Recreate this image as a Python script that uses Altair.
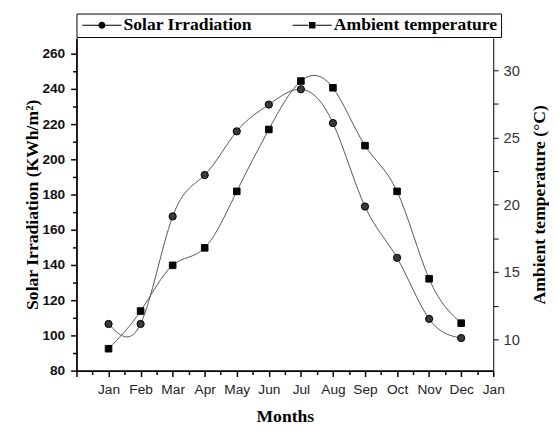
import altair as alt
import pandas as pd

months = ["Jan", "Feb", "Mar", "Apr", "May", "Jun", "Jul", "Aug", "Sep", "Oct", "Nov", "Dec"]
month_num = [1, 2, 3, 4, 5, 6, 7, 8, 9, 10, 11, 12]
solar = [106.5, 106.5, 167.6, 191.1, 215.9, 231.1, 239.8, 220.6, 173.2, 144.1, 109.4, 98.5]
temperature = [9.3, 12.1, 15.5, 16.8, 21.0, 25.6, 29.2, 28.7, 24.4, 21.0, 14.5, 11.2]
tick_labels = months + ["Jan"]
series_names = ["Solar Irradiation", "Ambient temperature"]

df = pd.DataFrame({"m": month_num, "solar": solar, "temp": temperature, "month": months})

label_js = "[" + ",".join("'" + t + "'" for t in tick_labels) + "]"
x_label_expr = "datum.value >= 1 && datum.value % 1 == 0 ? " + label_js + "[datum.value - 1] : ''"

SANS = "Liberation Sans"
SERIF = "Liberation Serif"

x_enc = alt.X(
    "m:Q",
    scale=alt.Scale(domain=[0, 13], nice=False, zero=False),
    axis=alt.Axis(
        values=[i / 2 for i in range(0, 27)],
        labelExpr=x_label_expr,
        labelOverlap=False, labelFlush=False,
        labelFont=SANS, labelFontSize=14, labelColor="#222",
        labelPadding=6,
        tickSize={"condition": {"test": "datum.value % 1 == 0", "value": 6}, "value": 4},
        tickColor="black", tickWidth=1.5,
        domainColor="black", domainWidth=1.8,
        grid=False,
        title="Months", titleFont=SERIF, titleFontSize=18, titleFontWeight="bold",
        titleColor="black", titlePadding=12,
    ),
)

y_left = alt.Y(
    "solar:Q",
    scale=alt.Scale(domain=[80, 268.9], nice=False, zero=False),
    axis=alt.Axis(
        orient="left",
        values=list(range(80, 261, 10)),
        labelExpr="datum.value % 20 == 0 ? datum.label : ''",
        labelOverlap=False, labelFlush=False,
        labelFont=SANS, labelFontSize=14, labelFontWeight="bold", labelColor="#111",
        labelPadding=6,
        tickSize={"condition": {"test": "datum.value % 20 == 0", "value": 6}, "value": 4},
        tickColor="black", tickWidth=1.5,
        domainColor="black", domainWidth=1.8,
        grid=False,
        title="Solar Irradiation (KWh/m²)", titleFont=SERIF, titleFontSize=18,
        titleFontWeight="bold", titleColor="black", titlePadding=0,
    ),
)

y_right = alt.Y(
    "temp:Q",
    scale=alt.Scale(domain=[7.67, 32.4], nice=False, zero=False),
    axis=alt.Axis(
        orient="right",
        values=[10, 12.5, 15, 17.5, 20, 22.5, 25, 27.5, 30],
        labelExpr="datum.value % 5 == 0 ? datum.label : ''",
        labelOverlap=False, labelFlush=False,
        labelFont=SANS, labelFontSize=15, labelColor="#333",
        labelPadding=5,
        tickSize=5, tickColor="black", tickWidth=1,
        domainColor="black", domainWidth=1,
        grid=False,
        title="Ambient temperature (°C)", titleFont=SERIF, titleFontSize=18,
        titleFontWeight="bold", titleColor="black", titlePadding=12,
        titleAngle=270, titleBaseline="top",
    ),
)

circle_path = ("M-3.33,-0.09H-0.61V0.09H-3.33Z M0.61,-0.09H3.33V0.09H0.61Z "
               "M-0.6,0A0.6,0.6,0,1,1,0.6,0A0.6,0.6,0,1,1,-0.6,0Z")
square_path = ("M-3.33,-0.09H-0.61V0.09H-3.33Z M0.61,-0.09H3.33V0.09H0.61Z "
               "M-0.55,-0.55H0.55V0.55H-0.55Z")

base = alt.Chart(df)

sol_line = base.mark_line(interpolate="natural", color="#555", strokeWidth=1).encode(x=x_enc, y=y_left)
sol_pts = base.mark_point(shape="circle", filled=True, size=55, fill="#3a3a3a",
                          stroke="black", strokeWidth=1, opacity=1).encode(x=x_enc, y=y_left)
legend_layer = base.transform_calculate(series="'Solar Irradiation'").transform_filter("false").mark_point(
    filled=True, color="black", opacity=1
).encode(
    x=x_enc, y=y_left,
    shape=alt.Shape(
        "series:N",
        scale=alt.Scale(domain=series_names, range=[circle_path, square_path]),
        legend=alt.Legend(
            title=None, orient="none", legendX=0, legendY=-25, direction="horizontal",
            strokeColor="black", fillColor="white", padding=3,
            columnPadding=38, labelOffset=13, symbolOffset=14,
            symbolSize=144, symbolFillColor="black", symbolStrokeWidth=0,
            labelFont=SERIF, labelFontSize=18, labelFontWeight="bold", labelColor="black",
            labelLimit=300,
        ),
    ),
)

tmp_line = base.mark_line(interpolate="natural", color="#555", strokeWidth=1).encode(x=x_enc, y=y_right)
tmp_pts = base.mark_point(shape="square", filled=True, size=45, fill="black",
                          stroke="black", strokeWidth=1, opacity=1).encode(x=x_enc, y=y_right)

left = alt.layer(sol_line, sol_pts, legend_layer)
right = alt.layer(tmp_line, tmp_pts)

chart = alt.layer(left, right).resolve_scale(y="independent").properties(
    width=426, height=340,
    padding={"left": 16, "top": 0, "right": 0, "bottom": 0},
    background="white",
).configure_view(strokeWidth=0)

chart.save("out.html", embed_options={"renderer": "svg", "actions": False})
